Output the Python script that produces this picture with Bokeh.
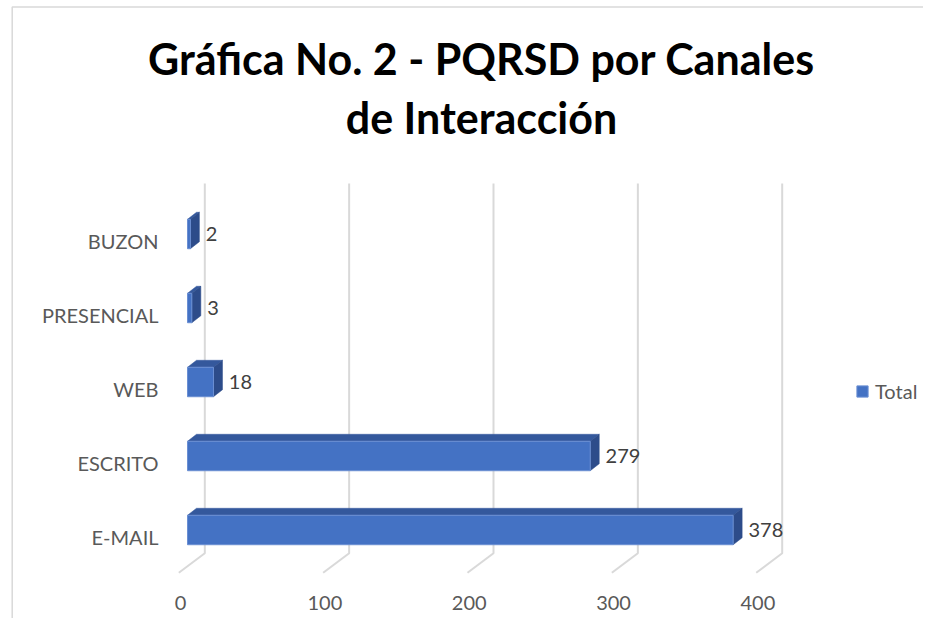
from bokeh.plotting import figure
from bokeh.models import Range1d, Legend, LegendItem, ColumnDataSource
from bokeh.core.properties import value
from bokeh.embed import file_html
from bokeh.resources import INLINE

# ---- data ----
categories = ["E-MAIL", "ESCRITO", "WEB", "PRESENCIAL", "BUZON"]
totals = [378, 279, 18, 3, 2]
x_ticks = [0, 100, 200, 300, 400]
tick_labels = ["0", "100", "200", "300", "400"]
title_lines = ["Gráfica No. 2 - PQRSD por Canales", "de Interacción"]
series_name = "Total"

# ---- styling / projection constants ----
W, H = 923, 618
PX_X = 1.4435      # pixels per value unit
PX_Y = 74.0        # pixels per category slot
X0_PX = 187.0      # canvas px of value 0 (bar front)
Y0_PX = 529.5      # canvas px of first category centre
xmin = -X0_PX / PX_X
xmax = xmin + W / PX_X
ymax = Y0_PX / PX_Y
ymin = ymax - H / PX_Y


def vx(px):
    return (px - X0_PX) / PX_X


def vy(py):
    return (Y0_PX - py) / PX_Y


HALF = 0.199                 # half bar height (slots)
DX, DY = 9 / PX_X, 7 / PX_Y  # bar depth offset
BACK_DX = 17.3 / PX_X        # back wall offset from bar front
FLOOR_DX = -8.7 / PX_X       # floor front edge offset
WALL_TOP = vy(183)
WALL_BOT = vy(552.7)
FLOOR_BOT = vy(572.3)

FONT = "Lato"
GREY = "#595959"

p = figure(width=W, height=H, x_range=Range1d(xmin, xmax), y_range=Range1d(ymin, ymax),
           output_backend="svg", toolbar_location=None,
           x_axis_location=None, y_axis_location=None, min_border=0)
p.min_border_left = p.min_border_right = p.min_border_top = p.min_border_bottom = 0
p.outline_line_color = None
p.xgrid.visible = False
p.ygrid.visible = False
p.background_fill_color = "white"
p.border_fill_color = "white"

# chart border (left + top edges visible)
bx = vx(11.7)
by = vy(6.5)
p.line([bx, bx, xmax], [ymin, by, by], line_color="#D9D9D9", line_width=1.5)

# gridlines: back wall verticals + floor diagonals
gx = [[t + BACK_DX, t + BACK_DX, t + FLOOR_DX] for t in x_ticks]
gy = [[WALL_TOP, WALL_BOT, FLOOR_BOT] for t in x_ticks]
p.multi_line(gx, gy, line_color="#D9D9D9", line_width=2)

ys = list(range(len(categories)))

# top faces
top_xs = [[0, v, v + DX, DX] for v in totals]
top_ys = [[y + HALF, y + HALF, y + HALF + DY, y + HALF + DY] for y in ys]
p.patches(top_xs, top_ys, fill_color="#34589C", line_color="#34589C", line_width=0.5)

# side faces
side_xs = [[v, v + DX, v + DX, v] for v in totals]
side_ys = [[y + HALF, y + HALF + DY, y - HALF + DY, y - HALF] for y in ys]
p.patches(side_xs, side_ys, fill_color="#2D4C8A", line_color="#2D4C8A", line_width=0.5)

# front faces
src = ColumnDataSource(dict(left=[0] * len(totals), right=totals,
                            bottom=[y - HALF for y in ys], top=[y + HALF for y in ys]))
front = p.quad(left="left", right="right", bottom="bottom", top="top", source=src,
               fill_color="#4472C4", line_color="#6B8FD3", line_width=1)

# value labels
p.text(x=[v + 10.6 for v in totals], y=ys, text=[str(v) for v in totals],
       text_font=value(FONT), text_font_size="20px", text_color="#404040",
       text_align="left", text_baseline="middle")

# category labels
p.text(x=[vx(158)] * len(categories), y=[y - 0.095 for y in ys], text=categories,
       text_font=value(FONT), text_font_size="20px", text_color=GREY,
       text_align="right", text_baseline="middle")

# value axis tick labels
p.text(x=[t + vx(180) for t in x_ticks], y=[vy(602.7)] * len(x_ticks), text=tick_labels,
       text_font=value(FONT), text_font_size="20px", text_color=GREY,
       text_align="center", text_baseline="middle")

# title
tx = vx(481)
p.text(x=[tx, tx], y=[vy(57.5), vy(116.5)], text=title_lines,
       text_font=value(FONT), text_font_style="bold", text_font_size="43px",
       text_color="#000000", text_align="center", text_baseline="middle")

# legend
legend = Legend(items=[LegendItem(label=series_name, renderers=[front])],
                location=(855, H - 383 - 20), orientation="vertical",
                border_line_color=None, background_fill_alpha=0,
                glyph_width=14, glyph_height=14, label_standoff=6,
                padding=0, margin=0, spacing=0,
                label_text_font=FONT, label_text_font_size="20px", label_text_color=GREY)
p.add_layout(legend, "center")

open("out.html", "w").write(file_html(p, INLINE))
